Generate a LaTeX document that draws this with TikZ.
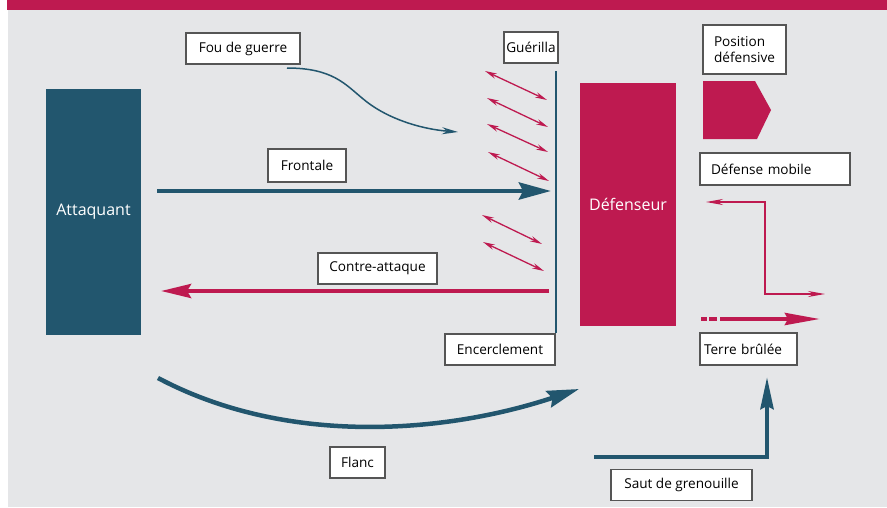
\documentclass[tikz,border=0pt]{standalone}
\usepackage{fontspec}
\setmainfont{Open Sans}
\usepackage{tikz}
\usetikzlibrary{arrows.meta}
\usetikzlibrary{calc}
\usetikzlibrary{positioning}
\definecolor{crimson}{RGB}{190,26,80}
\definecolor{petrol}{RGB}{34,86,110}
\definecolor{panel}{RGB}{229,230,232}
\definecolor{frame}{RGB}{85,85,85}

\begin{document}
\begin{tikzpicture}[x=1pt,y=-1pt,
	label box/.style={draw=frame,line width=1.2pt,fill=white,inner sep=0pt,
		minimum height=31pt,font=\fontsize{13.6}{16}\selectfont,align=left},
	block/.style={inner sep=0pt,text=white,font=\fontsize{16}{18}\selectfont},
	bigarrow/.style={line width=4.5pt,-{Stealth[length=32pt,width=17pt,inset=4pt]}},
	smallarrow/.style={crimson,line width=1.3pt,{Stealth[length=12pt,width=5.5pt]}-{Stealth[length=12pt,width=5.5pt]}}]
	
	\useasboundingbox (0,0) rectangle (887,507);
	\fill[crimson] (7,0) rectangle (887,10);
	\fill[panel] (8,10) rectangle (887,507);
	
	% the two sides
	\node [block,fill=petrol,minimum width=95pt,minimum height=246pt] (att) at (93.5,212) {Attaquant};
	\node [block,fill=crimson,minimum width=96pt,minimum height=243pt] (def) at (628,204.5) {D\'efenseur};
	
	% labels
	\node [label box,minimum width=114pt] (fou) at (243,48.5) {Fou de guerre};
	\node [label box,minimum width=54pt] (gue) at (531,47.5) {Gu\'erilla};
	\node [label box,minimum width=78pt,minimum height=33pt] (fro) at (307,165.5) {Frontale};
	\node [label box,minimum width=119pt] (con) at (377.5,268.5) {Contre-attaque};
	\node [label box,minimum width=110pt] (enc) at (500,349.5) {Encerclement};
	\node [label box,minimum width=55pt] (fla) at (357.5,462.5) {Flanc};
	\node [label box,minimum width=141pt] (sau) at (681.5,485) {Saut de grenouille};
	\node [label box,minimum width=83pt,minimum height=49pt,inner sep=8pt] (pos) at (744.5,49.5) {Position\\d\'efensive};
	\node [label box,text width=128pt,inner xsep=11pt,minimum height=32pt] (mob) at (775,169) {D\'efense mobile};
	\node [label box,text width=89pt,inner xsep=4pt,minimum height=32pt] (ter) at (748.5,349) {Terre br\^ul\'ee};
	
	% position defensive
	\fill[crimson] (703,81)--(755,81)--(771,110)--(757,139)--(703,139)--cycle;
	
	% guerilla line
	\coordinate [] (G) at (556,71);
	\draw[petrol,line width=1.5pt] (G)--(enc.north -| G);
	
	\foreach \ya/\yb/\xa/\xb in {71/100/485/547, 98/127/487/548, 124/152/487/548, 152/181/488/549, 215/244/482/542, 242/271/483/544}
		\draw[smallarrow] (\xa,\ya)--(\xb,\yb);
	
	% fou de guerre
	\coordinate [] (F1) at (287,68);
	\coordinate [] (F2) at (458,132);
	\draw[petrol,line width=1.5pt,-{Stealth[length=16pt,width=7pt]}] (F1) .. controls (332,68) and (345,84) .. (362,98) .. controls (385,118) and (420,129) .. (F2);
	
	% frontale
	\coordinate [] (A) at (157,191);
	\coordinate [] (B) at (551,191);
	\draw[petrol,bigarrow] (A)--(B);
	
	% contre-attaque
	\coordinate [] (C) at (549,291);
	\coordinate [] (D) at (161,291);
	\draw[crimson,line width=4pt,-{Stealth[length=30pt,width=14pt,inset=4pt]}] (C)--(D);
	
	% flanc
	\coordinate [] (E) at (158,378);
	\coordinate [] (H) at (579,389);
	\draw[petrol,bigarrow] (E) .. controls (290,448) and (450,432) .. (H);
	
	% saut de grenouille
	\coordinate [] (S1) at (594,457);
	\coordinate [] (S2) at (767,457);
	\coordinate [] (S3) at (767,377);
	\draw[petrol,line width=4.5pt,-{Stealth[length=32pt,width=13pt,inset=3pt]}] (S1)--(S2)--(S3);
	
	% defense mobile
	\coordinate [] (M1) at (706,202);
	\coordinate [] (M2) at (765,202);
	\coordinate [] (M3) at (765,294);
	\coordinate [] (M4) at (825,294);
	\draw[crimson,line width=1.3pt,{Stealth[length=17pt,width=6pt]}-{Stealth[length=17pt,width=6pt]}] (M1)--(M2)--(M3)--(M4);
	
	% terre brulee
	\coordinate [] (T1) at (701,319);
	\coordinate [] (T2) at (820,319);
	\draw[crimson,line width=4pt,dash pattern=on 6pt off 2pt on 8pt off 3pt on 200pt,-{Stealth[length=35pt,width=12pt,inset=3pt]}] (T1)--(T2);
	
\end{tikzpicture}
\end{document}
